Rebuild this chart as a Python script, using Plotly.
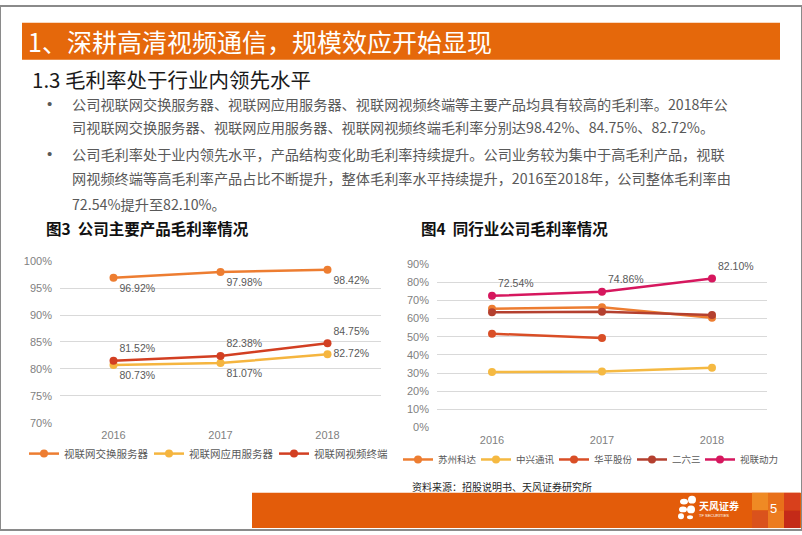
import plotly.graph_objects as go

W, H = 802, 535

# ---------------- data ----------------
years = ["2016", "2017", "2018"]

# Chart 3: company main product gross margins (%)
c3_names = ["视联网交换服务器", "视联网应用服务器", "视联网视频终端"]
c3_switch = [96.92, 97.98, 98.42]
c3_app = [80.73, 81.07, 82.72]
c3_terminal = [81.52, 82.38, 84.75]

# Chart 4: peer companies gross margins (%)
c4_names = ["苏州科达", "中兴通讯", "华平股份", "二六三", "视联动力"]
c4_kedacom = [65.5, 66.3, 60.5]
c4_zte = [30.6, 30.9, 32.9]
c4_huaping = [51.7, 49.3, None]
c4_263 = [63.5, 63.8, 62.0]
c4_shilian = [72.54, 74.86, 82.10]

c3_ticks = [70, 75, 80, 85, 90, 95, 100]
c4_ticks = [0, 10, 20, 30, 40, 50, 60, 70, 80, 90]

# ---------------- helpers ----------------
def px(x):
    return x / W

def py(y):
    return 1 - y / H

LAT = "Liberation Sans, Arial, Noto Sans CJK SC"
CJK = "Noto Sans CJK SC, Liberation Sans"
GRAY_TXT = "#7F7F7F"
LBL = "#595959"

fig = go.Figure()

legend_cfg = {}
leg_counter = [0]

def add_line(x, y, name, color, xa, ya, leg_x, leg_y, leg_size,
             textpos=None, show_text=False):
    leg_counter[0] += 1
    lname = "legend" if leg_counter[0] == 1 else f"legend{leg_counter[0]}"
    legend_cfg[lname] = dict(orientation="h", x=px(leg_x), xanchor="left",
                             y=py(leg_y), yanchor="middle", itemwidth=30,
                             font=dict(family=CJK, size=leg_size, color=LBL),
                             bgcolor="rgba(0,0,0,0)", borderwidth=0,
                             itemclick=False, itemdoubleclick=False)
    kw = {}
    if show_text:
        kw = dict(texttemplate="%{y:.2f}%", textposition=textpos,
                  textfont=dict(family=LAT, size=10.5, color=LBL))
    fig.add_trace(go.Scatter(
        x=x, y=y, name=name, xaxis=xa, yaxis=ya, legend=lname,
        mode="lines+markers+text" if show_text else "lines+markers",
        line=dict(color=color, width=2.5),
        marker=dict(color=color, size=8),
        cliponaxis=False,
        **kw))

# chart 3 legends
add_line(years, c3_switch, c3_names[0], "#ED7D31", "x", "y", 24, 457, 10.5,
         ["bottom right"] * 3, True)
add_line(years, c3_app, c3_names[1], "#F5B53F", "x", "y", 149, 457, 10.5,
         ["bottom right", "bottom right", "middle right"], True)
add_line(years, c3_terminal, c3_names[2], "#D23F22", "x", "y", 274, 457, 10.5,
         ["top right"] * 3, True)

# chart 4 legends
add_line(years, c4_kedacom, c4_names[0], "#ED7D31", "x2", "y2", 398, 463, 9.5)
add_line(years, c4_zte, c4_names[1], "#F5B942", "x2", "y2", 476, 463, 9.5)
add_line(years, c4_huaping, c4_names[2], "#D94E26", "x2", "y2", 554, 463, 9.5)
add_line(years, c4_263, c4_names[3], "#B4402F", "x2", "y2", 632, 463, 9.5)
add_line(years, c4_shilian, c4_names[4], "#D6175E", "x2", "y2", 700, 463, 9.5,
         ["top right"] * 3, True)

axis_common = dict(showgrid=False, zeroline=False, showline=False,
                   tickfont=dict(family=LAT, size=11, color=GRAY_TXT))

fig.update_layout(
    width=W, height=H,
    margin=dict(l=0, r=0, t=0, b=0),
    paper_bgcolor="white", plot_bgcolor="white",
    showlegend=True,
    xaxis=dict(domain=[px(60), px(381)], type="category",
               range=[-0.5, 2.5], anchor="y", ticklabelstandoff=4,
               **axis_common),
    yaxis=dict(domain=[py(426), py(260)], range=[69.9, 100.1],
               tickvals=c3_ticks, ticktext=[f"{v}%" for v in c3_ticks],
               showgrid=True, gridcolor="#D9D9D9", gridwidth=1,
               zeroline=False, showline=False, anchor="x",
               ticklabelstandoff=7,
               tickfont=dict(family=LAT, size=11, color=GRAY_TXT)),
    xaxis2=dict(domain=[px(437), px(767)], type="category",
                range=[-0.5, 2.5], anchor="y2", ticklabelstandoff=4,
                **axis_common),
    yaxis2=dict(domain=[py(431), py(263)], range=[-0.3, 90.3],
                tickvals=c4_ticks, ticktext=[f"{v}%" for v in c4_ticks],
                showgrid=True, gridcolor="#D9D9D9", gridwidth=1,
                zeroline=False, showline=False, anchor="x2",
                ticklabelstandoff=7,
                tickfont=dict(family=LAT, size=11, color=GRAY_TXT)),
    **legend_cfg,
)

shapes = []
# title bar
shapes.append(dict(type="rect", xref="paper", yref="paper",
                   x0=px(22), x1=px(780), y0=py(55), y1=py(17),
                   fillcolor="#E5680B", line=dict(width=0), layer="below"))
# bottom bar
shapes.append(dict(type="rect", xref="paper", yref="paper",
                   x0=px(252), x1=px(802), y0=py(533), y1=py(497),
                   fillcolor="#E35C0A", line=dict(width=0), layer="below"))
# decorative squares bottom-right
sq_cols = [752, 768, 784, 800]
sq_rows = [497, 515, 533]
sq_colors = [["#EF8A24", "#E8701A", "#D8401C"],
             ["#DA521C", "#EC7C20", "#C42A18"]]
for r in range(2):
    for c in range(3):
        shapes.append(dict(type="rect", xref="paper", yref="paper",
                           x0=px(sq_cols[c]), x1=px(sq_cols[c + 1]),
                           y0=py(sq_rows[r + 1]), y1=py(sq_rows[r]),
                           fillcolor=sq_colors[r][c], line=dict(width=0),
                           layer="below"))
# logo petals
for (cx, cy, rx, ry) in [(684, 506, 4, 3), (692, 504, 4, 4), (683, 514, 4, 3),
                         (691, 514, 4, 4), (681, 521, 3, 3), (690, 522, 3, 2)]:
    shapes.append(dict(type="circle", xref="paper", yref="paper",
                       x0=px(cx - rx), x1=px(cx + rx),
                       y0=py(cy + ry), y1=py(cy - ry),
                       fillcolor="white", line=dict(width=0)))
# slide border
shapes.append(dict(type="rect", xref="paper", yref="paper",
                   x0=0, x1=1, y0=0, y1=1,
                   line=dict(color="#8A8A8A", width=2),
                   fillcolor="rgba(0,0,0,0)"))
fig.update_layout(shapes=shapes)

def ann(x, y, text, size, color, family=CJK, anchor="left", bold=False):
    if bold:
        text = f"<b>{text}</b>"
    fig.add_annotation(x=px(x), y=py(y), xref="paper", yref="paper",
                       text=text, showarrow=False, xanchor=anchor,
                       yanchor="middle",
                       font=dict(family=family, size=size, color=color))

ann(26, 36, "1、深耕高清视频通信，规模效应开始显现", 25, "white")
ann(30, 75, "1.3 毛利率处于行业内领先水平", 20.5, "#1A1A1A")

body = [
    (100, "公司视联网交换服务器、视联网应用服务器、视联网视频终端等主要产品均具有较高的毛利率。2018年公"),
    (124, "司视联网交换服务器、视联网应用服务器、视联网视频终端毛利率分别达98.42%、84.75%、82.72%。"),
    (151, "公司毛利率处于业内领先水平，产品结构变化助毛利率持续提升。公司业务较为集中于高毛利产品，视联"),
    (176, "网视频终端等高毛利率产品占比不断提升，整体毛利率水平持续提升，2016至2018年，公司整体毛利率由"),
    (202, "72.54%提升至82.10%。"),
]
for yy, t in body:
    ann(70, yy, t, 14.2, "#595959")
ann(45, 100, "•", 15, "#595959", family=LAT)
ann(45, 151, "•", 15, "#595959", family=LAT)

ann(44, 227, "图3&nbsp;&nbsp;公司主要产品毛利率情况", 15.5, "#111111", bold=True)
ann(419, 227, "图4&nbsp;&nbsp;同行业公司毛利率情况", 15.5, "#111111", bold=True)
ann(410, 491, "资料来源：招股说明书、天风证券研究所", 10, "#262626")

ann(697, 510, "<b>天风证券</b>", 10, "white")
ann(697, 520, "TF SECURITIES", 4, "white", family=LAT)
ann(768, 513, "5", 13, "white", family=LAT)

fig.write_html(
    "out.html",
    config={"displayModeBar": False},
    post_script="document.body.style.margin='0';document.body.style.padding='0';document.body.style.overflow='hidden';",
)
